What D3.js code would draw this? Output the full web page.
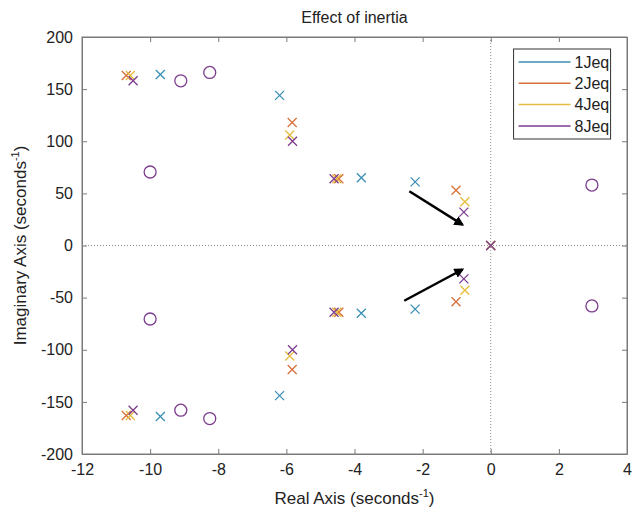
<!DOCTYPE html>
<html>
<head>
<meta charset="utf-8">
<script src="https://cdn.jsdelivr.net/npm/d3@7"></script>
<style>
  body { margin: 0; background: #fff; }
  svg text { font-family: "Liberation Sans", Arial, sans-serif; fill: #222; }
</style>
</head>
<body>
<div id="chart"></div>
<script>
// series names and colours
var seriesNames = ['1Jeq', '2Jeq', '4Jeq', '8Jeq'];
var seriesColors = ['#3a8fb5', '#d8703c', '#e6bd3e', '#7d3d8f'];

// poles: [real, imag]
var poles1 = [[-9.7, 164], [-9.7, -164], [-6.2, 144], [-6.2, -144], [-3.8, 65], [-3.8, -65], [-2.22, 61], [-2.22, -61], [0, 0]];
var poles2 = [[-10.7, 163], [-10.7, -163], [-5.83, 118], [-5.83, -119], [-4.46, 64], [-4.46, -64], [-1.02, 53], [-1.02, -54], [0, 0]];
var poles4 = [[-10.58, 163], [-10.58, -163], [-5.9, 106], [-5.9, -106], [-4.52, 64], [-4.52, -64], [-0.76, 42], [-0.76, -43], [0, 0]];
var poles8 = [[-10.5, 158], [-10.5, -158], [-5.82, 100], [-5.82, -100], [-4.6, 64], [-4.6, -64], [-0.79, 32], [-0.79, -32], [0, 0]];
// zeros (same for every case, drawn last in purple)
var zeros8 = [[-10, 70.5], [-10, -70.5], [-9.1, 158], [-9.1, -158], [-8.25, 166], [-8.25, -166], [2.97, 58], [2.97, -58]];

// annotation arrows [x1, y1, x2, y2]
var arrows = [[-2.39, 52, -0.83, 20], [-2.54, -53, -0.83, -23]];

var xTicks = [-12, -10, -8, -6, -4, -2, 0, 2, 4];
var yTicks = [-200, -150, -100, -50, 0, 50, 100, 150, 200];

var W = 632, H = 513;
var margin = {top: 37, right: 5, bottom: 59, left: 82};
var width = W - margin.left - margin.right,
    height = H - margin.top - margin.bottom;

var svg = d3.select('#chart').append('svg')
            .attr('width', W).attr('height', H);
var chart = svg.append('g')
            .attr('transform', 'translate(' + margin.left + ',' + margin.top + ')');

var xScale = d3.scaleLinear().domain([-12, 4]).range([0, width]);
var yScale = d3.scaleLinear().domain([-200, 200]).range([height, 0]);

// zero lines (dotted)
chart.append('line')
    .attr('x1', xScale(0)).attr('x2', xScale(0))
    .attr('y1', 0).attr('y2', height)
    .attr('stroke', '#8a8a8a').attr('stroke-width', 1).attr('stroke-dasharray', '1,2');
chart.append('line')
    .attr('x1', 0).attr('x2', width)
    .attr('y1', yScale(0)).attr('y2', yScale(0))
    .attr('stroke', '#8a8a8a').attr('stroke-width', 1).attr('stroke-dasharray', '1,2');

// axes, ticks pointing inwards on all sides
var tickLen = 5;
var plain = function(d) { return String(d); }; // hyphen minus like matlab
var xAxis = d3.axisBottom(xScale).tickValues(xTicks).tickSizeInner(-tickLen).tickSizeOuter(0).tickPadding(10).tickFormat(plain);
var yAxis = d3.axisLeft(yScale).tickValues(yTicks).tickSizeInner(-tickLen).tickSizeOuter(0).tickPadding(9).tickFormat(plain);
var xAxisTop = d3.axisTop(xScale).tickValues(xTicks).tickSizeInner(-tickLen).tickSizeOuter(0).tickFormat('');
var yAxisRight = d3.axisRight(yScale).tickValues(yTicks).tickSizeInner(-tickLen).tickSizeOuter(0).tickFormat('');

chart.append('g').attr('class', 'axis').attr('transform', 'translate(0,' + height + ')').call(xAxis);
chart.append('g').attr('class', 'axis').call(yAxis);
chart.append('g').attr('class', 'axis').call(xAxisTop);
chart.append('g').attr('class', 'axis').attr('transform', 'translate(' + width + ',0)').call(yAxisRight);

chart.selectAll('.axis path, .axis line').attr('stroke', '#7a7a7a');
chart.selectAll('.axis text').style('font-size', '16px').attr('fill', '#222');

// frame
chart.append('rect')
    .attr('width', width).attr('height', height)
    .attr('fill', 'none').attr('stroke', '#7a7a7a').attr('stroke-width', 1);

// pole markers (x)
var allPoles = [poles1, poles2, poles4, poles8];
var s = 4.5;
allPoles.forEach(function(poles, i) {
    chart.append('g').selectAll('path')
        .data(poles)
        .enter().append('path')
        .attr('d', function(d) {
            var cx = xScale(d[0]), cy = yScale(d[1]);
            return 'M' + (cx - s) + ',' + (cy - s) + 'L' + (cx + s) + ',' + (cy + s) +
                   'M' + (cx - s) + ',' + (cy + s) + 'L' + (cx + s) + ',' + (cy - s);
        })
        .attr('stroke', seriesColors[i])
        .attr('stroke-width', 1.3)
        .attr('fill', 'none');
});

// zero markers (o)
chart.append('g').selectAll('circle')
    .data(zeros8)
    .enter().append('circle')
    .attr('cx', function(d) { return xScale(d[0]); })
    .attr('cy', function(d) { return yScale(d[1]); })
    .attr('r', 6)
    .attr('fill', 'none')
    .attr('stroke', seriesColors[3])
    .attr('stroke-width', 1.3);

// arrows
svg.append('defs').append('marker')
    .attr('id', 'head')
    .attr('viewBox', '0 0 10 10')
    .attr('refX', 8).attr('refY', 5)
    .attr('markerWidth', 4).attr('markerHeight', 4)
    .attr('orient', 'auto')
    .append('path').attr('d', 'M0,0L10,5L0,10z').attr('fill', '#000');

chart.selectAll('line.arrow')
    .data(arrows)
    .enter().append('line')
    .attr('class', 'arrow')
    .attr('x1', function(d) { return xScale(d[0]); })
    .attr('y1', function(d) { return yScale(d[1]); })
    .attr('x2', function(d) { return xScale(d[2]); })
    .attr('y2', function(d) { return yScale(d[3]); })
    .attr('stroke', '#000')
    .attr('stroke-width', 2.5)
    .attr('marker-end', 'url(#head)');

// legend
var legend = chart.append('g')
    .attr('transform', 'translate(' + (xScale(0.67)) + ',' + 12 + ')');
legend.append('rect')
    .attr('width', 97).attr('height', 90)
    .attr('fill', '#fff').attr('stroke', '#333').attr('stroke-width', 1);
seriesNames.forEach(function(name, i) {
    var yy = 13 + i * 21.3;
    legend.append('line')
        .attr('x1', 5).attr('x2', 57)
        .attr('y1', yy).attr('y2', yy)
        .attr('stroke', seriesColors[i]).attr('stroke-width', 1.5);
    legend.append('text')
        .attr('x', 61).attr('y', yy)
        .attr('dy', '0.36em')
        .style('font-size', '16px')
        .text(name);
});

// title
svg.append('text')
    .attr('x', margin.left + width / 2).attr('y', 23)
    .attr('text-anchor', 'middle')
    .style('font-size', '16px')
    .text('Effect of inertia');

// x label
var xl = svg.append('text')
    .attr('x', margin.left + width / 2).attr('y', 504)
    .attr('text-anchor', 'middle')
    .style('font-size', '17px');
xl.append('tspan').text('Real Axis (seconds');
xl.append('tspan').attr('dy', -7).style('font-size', '11px').text('-1');
xl.append('tspan').attr('dy', 7).text(')');

// y label
var yl = svg.append('text')
    .attr('transform', 'translate(26,' + (margin.top + height / 2) + ') rotate(-90)')
    .attr('text-anchor', 'middle')
    .style('font-size', '17px');
yl.append('tspan').text('Imaginary Axis (seconds');
yl.append('tspan').attr('dy', -7).style('font-size', '11px').text('-1');
yl.append('tspan').attr('dy', 7).text(')');
</script>
</body>
</html>
